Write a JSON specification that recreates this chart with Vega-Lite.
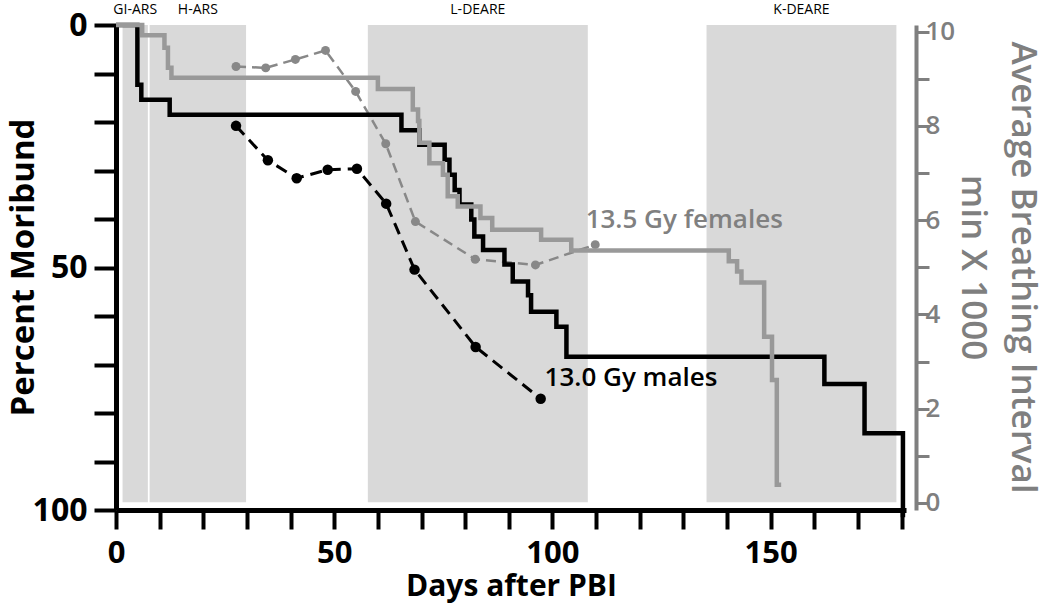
{
  "$schema": "https://vega.github.io/schema/vega-lite/v6.json",
  "width": 790,
  "height": 485,
  "autosize": {"type": "none"},
  "padding": {"left": 116, "top": 25, "right": 144, "bottom": 96},
  "background": "white",
  "config": {"view": {"stroke": null}, "axis": {"grid": false, "labelFont": "Open Sans", "titleFont": "Open Sans"}, "font": "Open Sans"},
  "datasets": {
    "phases": [
      {"phase": "GI-ARS", "start": 1.5, "end": 7.3},
      {"phase": "H-ARS", "start": 7.7, "end": 29.8},
      {"phase": "L-DEARE", "start": 57.7, "end": 108.1},
      {"phase": "K-DEARE", "start": 135.3, "end": 178.8}
    ],
    "survival": [
      {"group": "m", "day": 0, "pct": 0},
      {"group": "m", "day": 4.9, "pct": 12.3},
      {"group": "m", "day": 5.8, "pct": 15.4},
      {"group": "m", "day": 12.3, "pct": 18.5},
      {"group": "m", "day": 65.4, "pct": 21.7},
      {"group": "m", "day": 69.5, "pct": 24.7},
      {"group": "m", "day": 75.3, "pct": 27.8},
      {"group": "m", "day": 76.4, "pct": 30.9},
      {"group": "m", "day": 77.6, "pct": 34.0},
      {"group": "m", "day": 78.7, "pct": 37.0},
      {"group": "m", "day": 81.4, "pct": 40.1},
      {"group": "m", "day": 82.1, "pct": 43.6},
      {"group": "m", "day": 84.1, "pct": 46.4},
      {"group": "m", "day": 89.0, "pct": 49.4},
      {"group": "m", "day": 90.9, "pct": 52.9},
      {"group": "m", "day": 94.4, "pct": 55.7},
      {"group": "m", "day": 95.1, "pct": 59.1},
      {"group": "m", "day": 100.9, "pct": 62.2},
      {"group": "m", "day": 103.2, "pct": 68.4},
      {"group": "m", "day": 162.3, "pct": 74.0},
      {"group": "m", "day": 171.5, "pct": 84.2},
      {"group": "m", "day": 180.3, "pct": 101.5},
      {"group": "f", "day": 0, "pct": 0},
      {"group": "f", "day": 6.0, "pct": 2.1},
      {"group": "f", "day": 11.1, "pct": 4.7},
      {"group": "f", "day": 11.9, "pct": 8.8},
      {"group": "f", "day": 12.7, "pct": 10.9},
      {"group": "f", "day": 60.0, "pct": 13.2},
      {"group": "f", "day": 68.0, "pct": 17.4},
      {"group": "f", "day": 69.2, "pct": 19.8},
      {"group": "f", "day": 69.5, "pct": 24.3},
      {"group": "f", "day": 71.8, "pct": 28.5},
      {"group": "f", "day": 74.9, "pct": 30.9},
      {"group": "f", "day": 76.0, "pct": 35.3},
      {"group": "f", "day": 78.3, "pct": 37.4},
      {"group": "f", "day": 83.5, "pct": 39.8},
      {"group": "f", "day": 86.2, "pct": 42.2},
      {"group": "f", "day": 97.4, "pct": 44.3},
      {"group": "f", "day": 104.3, "pct": 46.5},
      {"group": "f", "day": 140.4, "pct": 48.7},
      {"group": "f", "day": 142.3, "pct": 50.8},
      {"group": "f", "day": 143.3, "pct": 53.1},
      {"group": "f", "day": 148.5, "pct": 64.3},
      {"group": "f", "day": 150.3, "pct": 73.2},
      {"group": "f", "day": 151.4, "pct": 94.8},
      {"group": "f", "day": 152.4, "pct": 94.8}
    ],
    "breathing": [
      {"group": "m", "day": 27.5, "interval": 8.0},
      {"group": "m", "day": 34.8, "interval": 7.27},
      {"group": "m", "day": 41.4, "interval": 6.89},
      {"group": "m", "day": 48.5, "interval": 7.07},
      {"group": "m", "day": 55.2, "interval": 7.09},
      {"group": "m", "day": 61.9, "interval": 6.35},
      {"group": "m", "day": 68.4, "interval": 4.95},
      {"group": "m", "day": 82.4, "interval": 3.31},
      {"group": "m", "day": 97.3, "interval": 2.21},
      {"group": "f", "day": 27.5, "interval": 9.26},
      {"group": "f", "day": 34.3, "interval": 9.23},
      {"group": "f", "day": 41.1, "interval": 9.41},
      {"group": "f", "day": 48.0, "interval": 9.6},
      {"group": "f", "day": 54.9, "interval": 8.73},
      {"group": "f", "day": 61.8, "interval": 7.62},
      {"group": "f", "day": 68.6, "interval": 5.97},
      {"group": "f", "day": 82.3, "interval": 5.17},
      {"group": "f", "day": 96.1, "interval": 5.05},
      {"group": "f", "day": 109.8, "interval": 5.48}
    ]
  },
  "resolve": {"scale": {"y": "independent"}, "axis": {"x": "independent"}},
  "layer": [
    {
      "data": {"name": "phases"},
      "mark": {"type": "rect", "color": "#d9d9d9"},
      "encoding": {
        "x": {"field": "start", "type": "quantitative", "scale": {"domain": [0, 181], "nice": false, "zero": false}, "axis": null},
        "x2": {"field": "end"},
        "y": {"datum": 0, "type": "quantitative", "scale": {"domain": [0, 100], "reverse": true}, "axis": null},
        "y2": {"datum": 98.4}
      }
    },
    {
      "data": {"name": "phases"},
      "transform": [{"calculate": "(datum.start + datum.end) / 2", "as": "mid"}],
      "mark": {"type": "text", "fontSize": 14, "baseline": "alphabetic", "align": "center", "color": "black", "font": "Open Sans"},
      "encoding": {
        "x": {"field": "mid", "type": "quantitative", "axis": null},
        "y": {"datum": -2.3, "type": "quantitative", "scale": {"domain": [0, 100], "reverse": true}, "axis": null},
        "text": {"field": "phase"}
      }
    },
    {
      "data": {"name": "breathing"},
      "transform": [{"filter": "datum.group === 'f'"}],
      "mark": {"type": "line", "color": "#888888", "strokeWidth": 2.5, "strokeDash": [10, 6]},
      "encoding": {
        "x": {"field": "day", "type": "quantitative", "axis": null},
        "y": {"field": "interval", "type": "quantitative", "scale": {"domain": [-0.15, 10.14], "nice": false, "zero": false}, "axis": null}
      }
    },
    {
      "data": {"name": "breathing"},
      "transform": [{"filter": "datum.group === 'f'"}],
      "mark": {"type": "circle", "color": "#888888", "size": 80, "opacity": 1},
      "encoding": {
        "x": {"field": "day", "type": "quantitative", "axis": null},
        "y": {"field": "interval", "type": "quantitative", "scale": {"domain": [-0.15, 10.14], "nice": false, "zero": false}, "axis": null}
      }
    },
    {
      "data": {"name": "breathing"},
      "transform": [{"filter": "datum.group === 'm'"}],
      "mark": {"type": "line", "color": "black", "strokeWidth": 3, "strokeDash": [12, 7]},
      "encoding": {
        "x": {"field": "day", "type": "quantitative", "axis": null},
        "y": {"field": "interval", "type": "quantitative", "scale": {"domain": [-0.15, 10.14], "nice": false, "zero": false}, "axis": null}
      }
    },
    {
      "data": {"name": "breathing"},
      "transform": [{"filter": "datum.group === 'm'"}],
      "mark": {"type": "circle", "color": "black", "size": 110, "opacity": 1},
      "encoding": {
        "x": {"field": "day", "type": "quantitative", "axis": null},
        "y": {
          "field": "interval", "type": "quantitative",
          "scale": {"domain": [-0.15, 10.14], "nice": false, "zero": false},
          "axis": {
            "orient": "right", "offset": 10,
            "title": ["Average Breathing Interval", "min X 1000"],
            "values": [0, 1, 2, 3, 4, 5, 6, 7, 8, 9, 10],
            "labelExpr": "datum.value % 2 === 0 ? datum.label : ''",
            "domainColor": "#7f7f7f", "domainWidth": 4,
            "tickColor": "#7f7f7f", "tickWidth": 3, "tickSize": 13,
            "labelColor": "#7f7f7f", "labelFontSize": 26, "labelFontWeight": 600,
            "labelPadding": -4, "labelAlign": "left", "labelFlush": false, "labelOverlap": false,
            "titleColor": "#7f7f7f", "titleFontSize": 35, "titleFontWeight": 600,
            "titleAngle": 90, "titleX": 106, "titleY": 242, "titleBaseline": "middle", "titleAlign": "center",
            "titleLineHeight": 50,
            "encode": {"ticks": {"update": {"x2": {"value": -13}}}}
          }
        }
      }
    },
    {
      "data": {"name": "survival"},
      "transform": [{"filter": "datum.group === 'm'"}],
      "mark": {"type": "line", "color": "black", "strokeWidth": 4.5, "interpolate": "step-after"},
      "encoding": {
        "x": {
          "field": "day", "type": "quantitative",
          "axis": {
            "title": "Days after PBI",
            "values": [0, 10, 20, 30, 40, 50, 60, 70, 80, 90, 100, 110, 120, 130, 140, 150, 160, 170, 180],
            "labelExpr": "datum.value % 50 === 0 ? datum.label : ''",
            "domainColor": "black", "domainWidth": 5,
            "tickColor": "black", "tickWidth": 4, "tickSize": 19,
            "labelFontSize": 31, "labelFontWeight": "bold", "labelColor": "black",
            "labelPadding": 9, "labelFlush": false, "labelOverlap": false,
            "titleFontSize": 30, "titleFontWeight": "bold", "titleColor": "black", "titlePadding": 3,
            "encode": {"ticks": {"update": {"y2": {"signal": "datum.value % 50 === 0 ? 19 : 10"}}}}
          }
        },
        "y": {
          "field": "pct", "type": "quantitative",
          "scale": {"domain": [0, 100], "reverse": true, "nice": false},
          "axis": {
            "orient": "left",
            "title": "Percent Moribund",
            "values": [0, 10, 20, 30, 40, 50, 60, 70, 80, 90, 100],
            "labelExpr": "datum.value % 50 === 0 ? datum.label : ''",
            "domainColor": "black", "domainWidth": 5,
            "tickColor": "black", "tickWidth": 4, "tickSize": 22,
            "labelFontSize": 32, "labelFontWeight": "bold", "labelColor": "black",
            "labelPadding": 7, "labelFlush": false, "labelOverlap": false,
            "titleFontSize": 33, "titleFontWeight": "bold", "titleColor": "black",
            "titleAngle": -90, "titleX": -93, "titleY": 242, "titleBaseline": "middle", "titleAlign": "center",
            "encode": {"ticks": {"update": {"x2": {"signal": "datum.value % 50 === 0 ? -22 : -11"}}}}
          }
        }
      }
    },
    {
      "data": {"name": "survival"},
      "transform": [{"filter": "datum.group === 'f'"}],
      "mark": {"type": "line", "color": "#999999", "strokeWidth": 4.5, "interpolate": "step-after"},
      "encoding": {
        "x": {"field": "day", "type": "quantitative", "axis": null},
        "y": {"field": "pct", "type": "quantitative", "scale": {"domain": [0, 100], "reverse": true, "nice": false}, "axis": null}
      }
    },
    {
      "data": {"values": [{}]},
      "mark": {"type": "text", "text": "13.5 Gy females", "fontSize": 26, "fontWeight": 600, "color": "#808080", "align": "left", "baseline": "alphabetic", "font": "Open Sans"},
      "encoding": {
        "x": {"datum": 107.6, "type": "quantitative", "axis": null},
        "y": {"datum": 41.8, "type": "quantitative", "scale": {"domain": [0, 100], "reverse": true, "nice": false}, "axis": null}
      }
    },
    {
      "data": {"values": [{}]},
      "mark": {"type": "text", "text": "13.0 Gy males", "fontSize": 26, "fontWeight": 600, "color": "black", "align": "left", "baseline": "alphabetic", "font": "Open Sans"},
      "encoding": {
        "x": {"datum": 98.2, "type": "quantitative", "axis": null},
        "y": {"datum": 74.5, "type": "quantitative", "scale": {"domain": [0, 100], "reverse": true, "nice": false}, "axis": null}
      }
    }
  ]
}
